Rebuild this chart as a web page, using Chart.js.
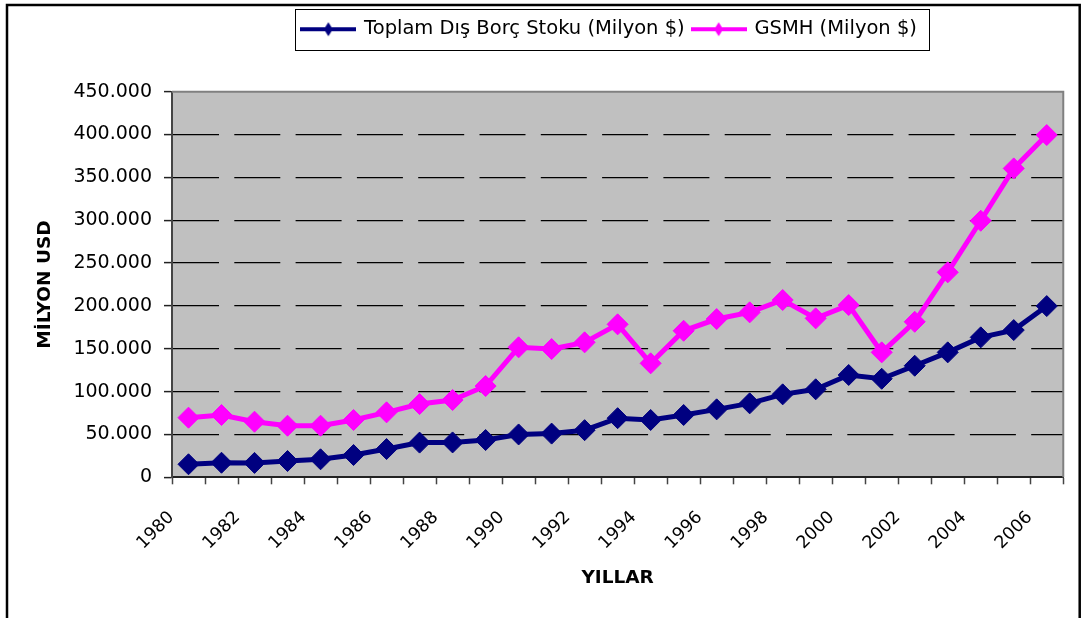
<!DOCTYPE html>
<html>
<head>
<meta charset="utf-8">
<script src="https://cdn.jsdelivr.net/npm/chart.js@4.4.1/dist/chart.umd.min.js"></script>
<style>
  html, body { margin: 0; padding: 0; background: #fff; }
  canvas { display: block; }
</style>
</head>
<body>
<canvas id="chart" width="1085" height="618"></canvas>
<script>
// Yıllar (x ekseni kategorileri)
const years = ['1980','1981','1982','1983','1984','1985','1986','1987','1988','1989',
               '1990','1991','1992','1993','1994','1995','1996','1997','1998','1999',
               '2000','2001','2002','2003','2004','2005','2006'];

// Toplam dış borç stoku, milyon $
const debtStock = [15200, 17000, 16800, 19000, 21000, 26000, 33000, 40500, 40700, 43500,
                   50000, 51000, 55000, 69000, 66900, 72700, 79300, 86300, 96800, 102700,
                   119400, 115000, 130200, 145800, 163300, 171800, 199800];

// GSMH, milyon $
const gnp = [69600, 72700, 64900, 60200, 60200, 66900, 75800, 85500, 90200, 106500,
             151700, 149700, 157500, 178500, 133000, 171000, 184700, 192500, 206900, 185500,
             201000, 145800, 181500, 239200, 299400, 360500, 399400];

// Y ekseni aralığı
const yMin = 0;
const yMax = 450000;
const yStep = 50000;

const seriesNames = ['Toplam Dış Borç Stoku (Milyon $)', 'GSMH (Milyon $)'];
const seriesColors = ['#000080', '#FF00FF'];

const FONT = "'DejaVu Sans', 'Liberation Sans', Arial, sans-serif";

// Binlik ayraç olarak nokta
function formatThousands(v) {
  return String(Math.round(v)).replace(/\B(?=(\d{3})+(?!\d))/g, '.');
}

// Lejant simgesi: çizgi + ortasında elmas
function legendIcon(color) {
  const c = document.createElement('canvas');
  c.width = 56; c.height = 16;
  const g = c.getContext('2d');
  g.strokeStyle = color; g.fillStyle = color;
  g.lineWidth = 4;
  g.beginPath(); g.moveTo(0, 8); g.lineTo(56, 8); g.stroke();
  g.beginPath();
  g.moveTo(28, 1); g.lineTo(32.5, 8); g.lineTo(28, 15); g.lineTo(23.5, 8);
  g.closePath(); g.fill();
  return c;
}

const framePlugin = {
  id: 'frame',
  afterLayout(chart) {
    // Lejantı çizim alanının üzerinde ortala
    const lg = chart.legend, a = chart.chartArea;
    if (!lg) return;
    const h = lg.height;
    lg.left = a.left - 16;
    lg.right = a.right;
    lg.top = 11.5;
    lg.bottom = lg.top + h;
  },
  beforeDraw(chart) {
    const {ctx, chartArea: a} = chart;
    ctx.save();
    ctx.fillStyle = '#ffffff';
    ctx.fillRect(0, 0, chart.width, chart.height);
    ctx.fillStyle = '#C0C0C0';
    ctx.fillRect(a.left, a.top, a.right - a.left, a.bottom - a.top);
    ctx.restore();
  },
  beforeDatasetsDraw(chart) {
    const {ctx, chartArea: a} = chart;
    ctx.save();
    ctx.strokeStyle = '#808080';
    ctx.lineWidth = 2;
    ctx.beginPath();
    ctx.moveTo(a.left, a.top);
    ctx.lineTo(a.right, a.top);
    ctx.lineTo(a.right, a.bottom);
    ctx.stroke();
    ctx.restore();
  },
  afterDraw(chart) {
    const {ctx} = chart;
    ctx.save();
    // Lejant çerçevesi
    const lg = chart.legend;
    if (lg && lg.legendHitBoxes && lg.legendHitBoxes.length) {
      const hb = lg.legendHitBoxes;
      const first = hb[0], last = hb[hb.length - 1];
      const x0 = first.left - 7;
      const x1 = last.left + last.width + 12;
      const y0 = first.top - 10.5;
      const y1 = first.top + first.height + 10.5;
      ctx.strokeStyle = '#000';
      ctx.lineWidth = 1;
      ctx.strokeRect(Math.round(x0) + 0.5, Math.round(y0) + 0.5, Math.round(x1 - x0), Math.round(y1 - y0));
    }
    // Dış çerçeve
    ctx.strokeStyle = '#000';
    ctx.lineWidth = 2.5;
    ctx.strokeRect(7, 5, 1072.7, 700);
    ctx.restore();
  }
};

new Chart(document.getElementById('chart'), {
  type: 'line',
  data: {
    labels: years,
    datasets: [
      {
        label: seriesNames[0],
        data: debtStock,
        borderColor: seriesColors[0],
        backgroundColor: seriesColors[0],
        borderWidth: 5,
        pointStyle: 'rectRot',
        pointRadius: 10.5,
        pointBorderWidth: 1,
        pointBackgroundColor: seriesColors[0],
        pointBorderColor: seriesColors[0],
        tension: 0,
        fill: false
      },
      {
        label: seriesNames[1],
        data: gnp,
        borderColor: seriesColors[1],
        backgroundColor: seriesColors[1],
        borderWidth: 5,
        pointStyle: 'rectRot',
        pointRadius: 10.5,
        pointBorderWidth: 1,
        pointBackgroundColor: seriesColors[1],
        pointBorderColor: seriesColors[1],
        tension: 0,
        fill: false
      }
    ]
  },
  options: {
    responsive: false,
    animation: false,
    events: [],
    layout: { padding: { top: 54.2, left: 8, right: 21, bottom: 0 } },
    plugins: {
      tooltip: { enabled: false },
      legend: {
        display: true,
        position: 'top',
        labels: {
          usePointStyle: true,
          pointStyleWidth: 52,
          boxHeight: 19.5,
          padding: 8,
          color: '#000',
          font: { family: FONT, size: 19.5 },
          generateLabels: (chart) => chart.data.datasets.map((ds, i) => ({
            text: ds.label,
            pointStyle: legendIcon(ds.borderColor),
            fillStyle: ds.borderColor,
            strokeStyle: ds.borderColor,
            lineWidth: 0,
            hidden: false,
            fontColor: '#000',
            datasetIndex: i
          }))
        }
      }
    },
    scales: {
      x: {
        type: 'category',
        offset: true,
        grid: {
          display: true,
          offset: true,
          drawOnChartArea: false,
          drawTicks: true,
          tickLength: 7,
          tickColor: '#444',
          tickWidth: 1.5
        },
        border: { display: true, color: '#222', width: 2 },
        ticks: {
          autoSkip: false,
          maxRotation: 45,
          minRotation: 45,
          padding: 23,
          labelOffset: -17,
          color: '#000',
          font: { family: FONT, size: 17.5 },
          callback: (val, i) => (i % 2 === 0 ? years[i] : '')
        },
        title: {
          display: true,
          text: 'YILLAR',
          color: '#000',
          font: { family: FONT, size: 18.5, weight: 'bold' },
          padding: { top: 0, bottom: 29 }
        },
        afterFit: (scale) => { scale.height = 140.7; }
      },
      y: {
        min: yMin,
        max: yMax,
        ticks: {
          stepSize: yStep,
          padding: 12,
          color: '#000',
          font: { family: FONT, size: 19 },
          callback: (v) => formatThousands(v)
        },
        grid: {
          color: (ctx) => (ctx.tick && (ctx.tick.value === yMin || ctx.tick.value === yMax)) ? 'rgba(0,0,0,0)' : '#000',
          lineWidth: 1.2,
          drawTicks: true,
          tickLength: 8,
          tickColor: '#222',
          tickWidth: 1.5,
          tickBorderDash: []
        },
        // dash: yatay kılavuz çizgilerinin kesik deseni
        border: { display: true, color: '#444', width: 2, dash: [46, 15.3], dashOffset: 0 },
        title: {
          display: true,
          text: 'MİLYON USD',
          color: '#000',
          font: { family: FONT, size: 18.5, weight: 'bold' },
          padding: { top: 26, bottom: 0 }
        },
        afterFit: (scale) => { scale.width = 164; }
      }
    }
  },
  plugins: [framePlugin]
});
</script>
</body>
</html>
